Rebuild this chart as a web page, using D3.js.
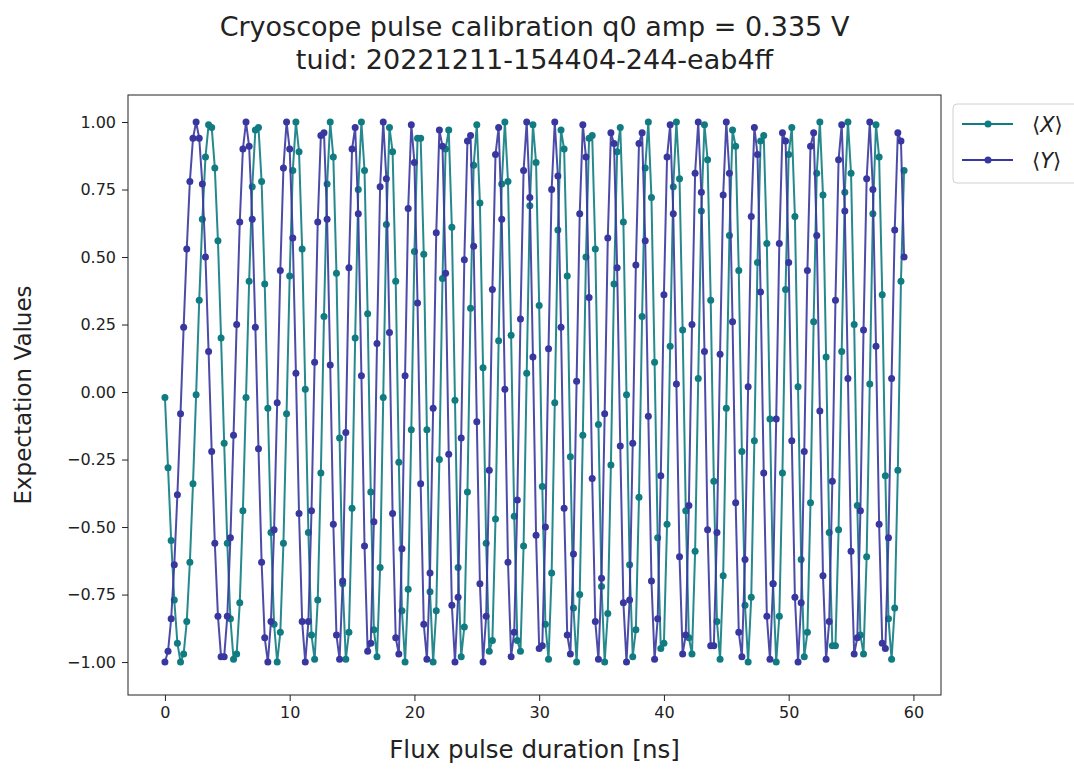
<!DOCTYPE html>
<html>
<head>
<meta charset="utf-8">
<script src="https://cdn.jsdelivr.net/npm/d3@7"></script>
<style>
  html, body { margin: 0; padding: 0; background: #fff; }
  svg text { font-family: "DejaVu Sans", sans-serif; fill: #222; }
</style>
</head>
<body>
<svg id="chart" width="1074" height="770"></svg>
<script>
// Cryoscope measurement: sampling grid of the flux pulse duration (ns)
const durationStep = 0.25;
const durationMax = 59.25;

// <X> expectation value per pulse duration
const expX = [
  -0.02,-0.28,-0.55,-0.77,-0.93,-1.00,-0.97,-0.85,-0.63,-0.34,
  -0.01,0.34,0.64,0.87,0.99,0.98,0.83,0.56,0.20,-0.19,
  -0.56,-0.84,-0.99,-0.97,-0.78,-0.44,-0.02,0.41,0.76,0.97,
  0.98,0.78,0.40,-0.06,-0.52,-0.86,-1.00,-0.89,-0.56,-0.08,
  0.43,0.82,1.00,0.89,0.53,0.01,-0.52,-0.90,-0.99,-0.77,
  -0.30,0.28,0.77,1.00,0.87,0.44,-0.17,-0.71,-0.99,-0.89,
  -0.43,0.20,0.75,1.00,0.82,0.29,-0.37,-0.88,-0.98,-0.65,
  -0.02,0.62,0.98,0.89,0.41,-0.26,-0.81,-1.00,-0.73,-0.14,
  0.52,0.94,0.94,0.51,-0.14,-0.74,-1.00,-0.81,-0.25,0.42,
  0.90,0.97,0.61,-0.03,-0.65,-0.98,-0.87,-0.37,0.31,0.84,
  0.99,0.70,0.09,-0.56,-0.96,-0.92,-0.47,0.19,0.77,1.00,
  0.78,0.21,-0.46,-0.92,-0.96,-0.57,0.07,0.69,0.99,0.85,
  0.32,-0.35,-0.86,-0.99,-0.67,-0.04,0.60,0.97,0.90,0.43,
  -0.24,-0.80,-1.00,-0.75,-0.16,0.50,0.94,0.95,0.53,-0.12,
  -0.72,-1.00,-0.82,-0.27,0.40,0.89,0.98,0.63,-0.01,-0.64,
  -0.98,-0.88,-0.39,0.28,0.83,1.00,0.72,0.11,-0.54,-0.95,
  -0.93,-0.49,0.17,0.76,1.00,0.79,0.23,-0.44,-0.91,-0.97,
  -0.59,0.05,0.67,0.99,0.86,0.34,-0.33,-0.85,-0.99,-0.68,
  -0.06,0.58,0.97,0.91,0.45,-0.22,-0.79,-1.00,-0.76,-0.18,
  0.48,0.93,0.95,0.55,-0.10,-0.71,-1.00,-0.83,-0.30,0.38,
  0.88,0.98,0.65,0.02,-0.62,-0.98,-0.89,-0.41,0.26,0.81,
  1.00,0.73,0.13,-0.52,-0.94,-0.94,-0.51,0.15,0.74,1.00,
  0.81,0.25,-0.42,-0.90,-0.97,-0.61,0.03,0.66,0.99,0.87,
  0.36,-0.31,-0.84,-0.99,-0.80,-0.29,0.41,0.82
];

// <Y> expectation value per pulse duration
const expY = [
  -1.00,-0.96,-0.84,-0.64,-0.38,-0.08,0.24,0.53,0.78,0.94,
  1.00,0.94,0.77,0.50,0.15,-0.22,-0.56,-0.83,-0.98,-0.98,
  -0.83,-0.54,-0.16,0.25,0.63,0.90,1.00,0.91,0.64,0.24,
  -0.21,-0.63,-0.91,-1.00,-0.85,-0.51,-0.04,0.45,0.83,1.00,
  0.90,0.57,0.07,-0.45,-0.85,-1.00,-0.85,-0.44,0.11,0.63,
  0.95,0.96,0.64,0.10,-0.49,-0.90,-0.99,-0.70,-0.15,0.46,
  0.90,0.98,0.66,0.06,-0.57,-0.96,-0.93,-0.48,0.18,0.76,
  1.00,0.79,0.22,-0.45,-0.91,-0.97,-0.58,0.06,0.68,0.99,
  0.85,0.33,-0.34,-0.86,-0.99,-0.67,-0.06,0.59,0.97,0.91,
  0.44,-0.23,-0.79,-1.00,-0.76,-0.17,0.49,0.93,0.95,0.54,
  -0.11,-0.71,-1.00,-0.83,-0.29,0.38,0.88,0.98,0.64,0.01,
  -0.63,-0.98,-0.89,-0.40,0.27,0.82,1.00,0.72,0.13,-0.53,
  -0.95,-0.94,-0.50,0.16,0.75,1.00,0.80,0.24,-0.43,-0.90,
  -0.97,-0.60,0.04,0.66,0.99,0.87,0.35,-0.32,-0.85,-0.99,
  -0.69,-0.08,0.57,0.96,0.92,0.46,-0.20,-0.78,-1.00,-0.77,
  -0.19,0.47,0.92,0.96,0.56,-0.09,-0.70,-0.99,-0.84,-0.31,
  0.36,0.87,0.99,0.66,0.03,-0.61,-0.97,-0.90,-0.42,0.25,
  0.81,1.00,0.74,0.15,-0.51,-0.94,-0.94,-0.52,0.14,0.73,
  1.00,0.81,0.26,-0.41,-0.89,-0.98,-0.62,0.02,0.65,0.98,
  0.88,0.37,-0.30,-0.83,-0.99,-0.71,-0.10,0.55,0.96,0.93,
  0.48,-0.18,-0.76,-1.00,-0.78,-0.22,0.45,0.91,0.96,0.58,
  -0.07,-0.68,-0.99,-0.85,-0.33,0.34,0.86,0.99,0.67,0.05,
  -0.59,-0.97,-0.91,-0.44,0.23,0.79,1.00,0.75,0.17,-0.49,
  -0.93,-0.95,-0.54,0.05,0.60,0.96,0.93,0.50
];

const xTicks = [0, 10, 20, 30, 40, 50, 60];
const yTicks = [-1.00, -0.75, -0.50, -0.25, 0.00, 0.25, 0.50, 0.75, 1.00];

const titleLines = ["Cryoscope pulse calibration q0 amp = 0.335 V",
                    "tuid: 20221211-154404-244-eab4ff"];
const xLabel = "Flux pulse duration [ns]";
const yLabel = "Expectation Values";
const seriesNames = ["X", "Y"];
const seriesColors = ["#107c81", "#38379f"];

// ---- layout ----
const svg = d3.select("#chart");
const plot = { left: 128, right: 941, top: 95, bottom: 695 };

const durations = d3.range(0, durationMax + durationStep / 2, durationStep);

const x = d3.scaleLinear().domain([-2.96, 62.21]).range([plot.left, plot.right]);
const y = d3.scaleLinear().domain([-1.122, 1.1]).range([plot.bottom, plot.top]);

// axes
const xAxis = d3.axisBottom(x).tickValues(xTicks).tickFormat(d3.format("d")).tickSize(6).tickPadding(6);
const yAxis = d3.axisLeft(y).tickValues(yTicks).tickFormat(d3.format(".2f")).tickSize(6).tickPadding(6);

const gx = svg.append("g").attr("transform", `translate(0,${plot.bottom})`).call(xAxis);
const gy = svg.append("g").attr("transform", `translate(${plot.left},0)`).call(yAxis);
[gx, gy].forEach(g => {
  g.select(".domain").remove();
  g.selectAll("line").attr("stroke", "#222").attr("stroke-width", 1);
  g.selectAll("text").attr("font-size", 16).attr("fill", "#222")
    .attr("font-family", "DejaVu Sans, sans-serif");
});

// series
svg.append("clipPath").attr("id", "plotclip")
  .append("rect").attr("x", plot.left).attr("y", plot.top)
  .attr("width", plot.right - plot.left).attr("height", plot.bottom - plot.top);

const series = [expX, expY];
const line = d3.line().x(d => x(d[0])).y(d => y(d[1]));
const gData = svg.append("g").attr("clip-path", "url(#plotclip)");
series.forEach((vals, k) => {
  const pts = vals.map((v, i) => [durations[i], v]);
  const g = gData.append("g");
  g.append("path").datum(pts).attr("d", line)
    .attr("fill", "none").attr("stroke", seriesColors[k])
    .attr("stroke-width", 2).attr("stroke-opacity", 0.9)
    .attr("stroke-linejoin", "round");
  g.selectAll("circle").data(pts).join("circle")
    .attr("cx", d => x(d[0])).attr("cy", d => y(d[1]))
    .attr("r", 3.5).attr("fill", seriesColors[k]);
});

// frame
svg.append("rect").attr("x", plot.left).attr("y", plot.top)
  .attr("width", plot.right - plot.left).attr("height", plot.bottom - plot.top)
  .attr("fill", "none").attr("stroke", "#222").attr("stroke-width", 1);

// title (two lines)
const cxTitle = (plot.left + plot.right) / 2;
svg.append("text").attr("x", cxTitle).attr("y", 36)
  .attr("text-anchor", "middle").attr("font-size", 27).text(titleLines[0]);
svg.append("text").attr("x", cxTitle).attr("y", 69)
  .attr("text-anchor", "middle").attr("font-size", 27).text(titleLines[1]);

// axis labels
svg.append("text").attr("x", cxTitle).attr("y", 758)
  .attr("text-anchor", "middle").attr("font-size", 24.5).text(xLabel);
svg.append("text").attr("transform", `translate(31,${(plot.top + plot.bottom) / 2}) rotate(-90)`)
  .attr("text-anchor", "middle").attr("font-size", 23).text(yLabel);

// legend
const lg = svg.append("g").attr("transform", "translate(953,104)");
lg.append("rect").attr("x", 0).attr("y", 0).attr("width", 140).attr("height", 79)
  .attr("rx", 4).attr("fill", "#fff").attr("fill-opacity", 0.8)
  .attr("stroke", "#d0d0d0").attr("stroke-width", 1);
seriesNames.forEach((name, k) => {
  const cy = 20 + k * 36;
  lg.append("line").attr("x1", 9).attr("x2", 60).attr("y1", cy).attr("y2", cy)
    .attr("stroke", seriesColors[k]).attr("stroke-width", 2);
  lg.append("circle").attr("cx", 35).attr("cy", cy).attr("r", 3.5).attr("fill", seriesColors[k]);
  const t = lg.append("text").attr("x", 79).attr("y", cy + 8).attr("font-size", 21);
  t.append("tspan").text("\u27e8");
  t.append("tspan").attr("font-style", "italic").text(name);
  t.append("tspan").text("\u27e9");
});
</script>
</body>
</html>
